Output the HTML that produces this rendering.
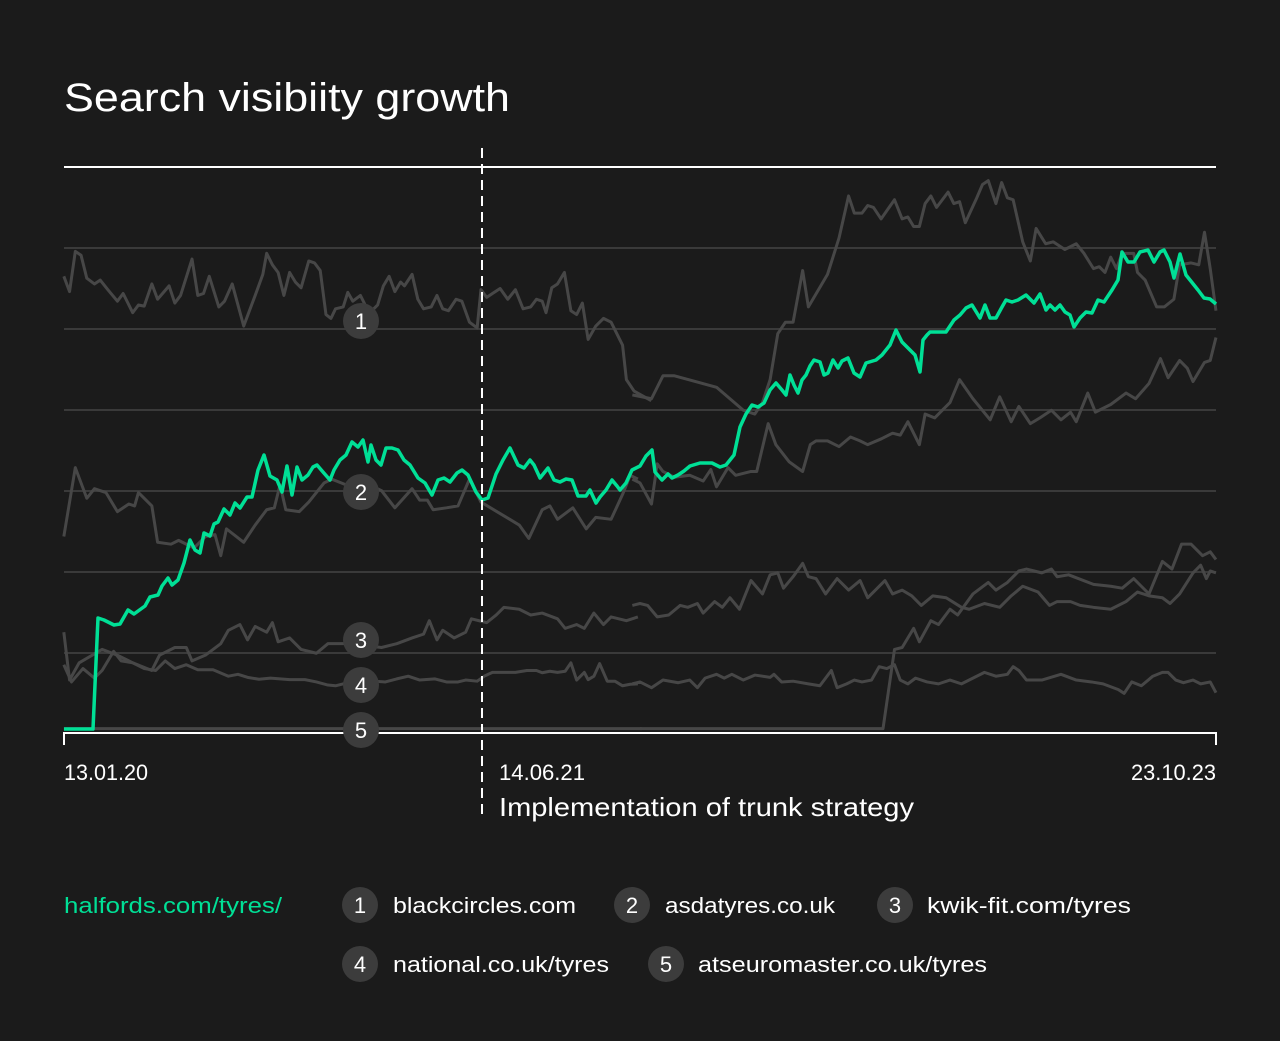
<!DOCTYPE html>
<html><head><meta charset="utf-8"><style>
html,body{margin:0;padding:0;background:#1b1b1b;}
svg{display:block;font-family:"Liberation Sans",sans-serif;}
.g{fill:none;stroke:#474747;stroke-width:3;stroke-linejoin:round;vector-effect:non-scaling-stroke}
</style></head><body>
<svg width="1280" height="1041" viewBox="0 0 1280 1041">
<rect width="1280" height="1041" fill="#1b1b1b"/>
<text x="64" y="111" fill="#fff" font-size="40" textLength="446" lengthAdjust="spacingAndGlyphs">Search visibiity growth</text>
<g stroke="#3a3a3a" stroke-width="2">
<line x1="64" y1="248" x2="1216" y2="248"/><line x1="64" y1="329" x2="1216" y2="329"/>
<line x1="64" y1="410" x2="1216" y2="410"/><line x1="64" y1="491" x2="1216" y2="491"/>
<line x1="64" y1="572" x2="1216" y2="572"/><line x1="64" y1="653" x2="1216" y2="653"/>
</g>
<line x1="64" y1="167" x2="1216" y2="167" stroke="#fff" stroke-width="2"/>

<g transform="translate(60,150) scale(0.3827)">
<polyline class="g" points="10,330 25,370 40,265 55,275 70,335 90,350 105,340 125,365 150,395 165,375 190,425 205,405 220,408 240,350 255,390 285,355 300,400 315,380 345,285 360,380 375,375 390,330 415,410 430,395 450,350 480,460 510,380 530,325 540,270 555,300 570,320 585,380 600,320 615,345 630,360 650,290 665,295 680,315 695,430 708,440 720,415 740,410 752,372 765,395 785,380 800,410 815,420 830,405 845,355 860,330 875,370 890,345 900,355 920,325 935,390 950,415 970,410 985,380 1000,415 1015,420 1035,390 1050,395 1070,450 1090,465 1100,365 1115,385 1130,375 1150,362 1170,390 1190,365 1210,415 1230,410 1245,390 1260,395 1270,425 1285,360 1300,350 1318,320 1335,420 1350,430 1365,400 1380,495 1400,460 1420,440 1440,450 1470,510 1480,600 1500,630 1545,655"/>
<polyline class="g" points="10,1010 40,830 70,910 90,885 120,895 150,945 180,925 195,930 205,895 240,930 255,1025 290,1030 310,1020 350,1040 380,1010 405,1005 420,1060 435,990 480,1025 510,980 540,940 560,935 575,875 590,940 625,945 650,920 690,870 710,860 760,880 790,865 840,890 875,935 920,885 940,915 960,915 975,940 1010,935 1040,930 1070,860 1100,920 1150,950 1200,980 1225,1015 1260,940 1280,930 1300,965 1340,935 1375,990 1400,960 1440,965 1470,900 1490,850 1510,860"/>
<polyline class="g" points="10,1260 25,1385 50,1340 110,1305 150,1320 190,1340 240,1360 260,1320 300,1300 330,1300 345,1335 380,1320 420,1290 440,1255 470,1240 490,1280 510,1245 540,1260 555,1235 570,1285 600,1275 630,1305 670,1315 700,1290 760,1290 840,1300 880,1290 920,1275 950,1265 965,1230 985,1280 1000,1255 1030,1275 1060,1260 1075,1225 1115,1235 1140,1215 1160,1195 1200,1200 1230,1215 1260,1210 1300,1225 1320,1250 1350,1240 1370,1250 1395,1210 1420,1240 1440,1220 1480,1230 1510,1220"/>
<polyline class="g" points="10,1345 30,1390 60,1355 90,1380 110,1360 140,1310 160,1335 190,1340 220,1355 250,1360 275,1335 300,1355 330,1345 360,1358 400,1358 440,1375 465,1370 490,1378 520,1383 550,1380 600,1384 640,1384 670,1390 700,1398 720,1400 760,1390 790,1390 820,1388 850,1390 880,1382 910,1375 940,1385 980,1382 1010,1390 1040,1390 1060,1385 1090,1388 1110,1374 1130,1365 1160,1365 1190,1365 1220,1360 1245,1360 1260,1366 1280,1362 1300,1365 1320,1362 1335,1340 1350,1385 1370,1365 1380,1384 1395,1375 1410,1342 1430,1388 1450,1388 1470,1400 1490,1396 1510,1395"/>
<polyline class="g" points="10,1512 1520,1512"/>
</g>
<g transform="translate(640,150) scale(0.3827)">
<polyline class="g" points="-20,640 30,650 60,590 90,590 200,620 270,680 300,690 320,660 340,600 360,480 380,450 400,450 425,315 440,410 490,325 520,230 545,120 560,165 580,165 595,145 610,150 630,180 665,130 685,180 700,175 715,200 730,200 745,140 760,120 775,150 805,110 820,140 835,135 850,190 880,125 895,90 910,80 930,140 945,85 960,125 975,130 1000,240 1020,290 1035,205 1060,245 1080,240 1110,260 1140,245 1160,270 1185,310 1200,305 1215,320 1230,280 1245,310 1260,270 1290,270 1300,320 1320,340 1350,410 1370,410 1395,390 1410,300 1440,295 1460,300 1475,215 1490,310 1505,420"/>
<polyline class="g" points="-20,860 0,870 30,925 45,820 60,840 90,855 130,850 165,865 185,835 200,880 230,830 250,850 290,840 305,840 335,715 355,770 390,815 425,840 445,770 460,760 490,760 520,775 550,750 575,760 595,770 630,755 660,740 680,745 700,710 730,770 745,690 770,700 790,680 810,660 835,600 870,650 915,705 940,645 970,710 990,670 1020,715 1045,700 1075,680 1100,705 1125,685 1140,710 1170,635 1190,685 1230,665 1270,635 1295,650 1330,610 1360,545 1380,595 1410,550 1430,570 1445,605 1475,555 1490,550 1505,490"/>
<polyline class="g" points="-20,1190 0,1185 20,1190 45,1220 75,1215 105,1190 125,1195 150,1185 165,1210 195,1180 215,1195 235,1170 260,1200 290,1125 320,1160 340,1110 360,1105 375,1145 400,1115 425,1080 440,1115 460,1120 485,1160 515,1120 545,1150 575,1125 595,1170 640,1125 660,1160 685,1150 710,1165 735,1190 765,1165 800,1170 840,1195 860,1200 900,1185 940,1195 970,1165 1000,1140 1040,1155 1070,1190 1090,1180 1125,1180 1150,1190 1185,1195 1230,1200 1270,1180 1300,1155 1330,1165 1365,1170 1385,1185 1410,1160 1445,1105 1465,1085 1480,1120 1490,1100 1505,1105"/>
<polyline class="g" points="-20,1395 0,1390 30,1405 60,1385 100,1392 130,1385 150,1405 170,1380 200,1370 220,1380 240,1370 270,1385 300,1372 340,1378 350,1370 370,1390 400,1388 440,1395 470,1400 500,1360 515,1405 540,1395 560,1385 580,1390 605,1385 625,1350 645,1355 665,1345 680,1385 700,1395 720,1380 750,1390 780,1395 810,1385 840,1395 870,1380 900,1365 930,1375 960,1370 975,1350 990,1360 1010,1385 1050,1385 1100,1370 1140,1385 1180,1390 1210,1395 1250,1410 1265,1420 1285,1390 1310,1400 1340,1375 1365,1365 1380,1365 1400,1385 1420,1392 1445,1385 1465,1395 1490,1390 1505,1418"/>
<polyline class="g" points="0,1512 635,1512 665,1305 685,1300 715,1250 730,1285 760,1230 780,1240 810,1200 830,1215 870,1160 910,1130 930,1150 960,1130 990,1100 1010,1095 1050,1105 1075,1095 1090,1115 1120,1110 1185,1135 1230,1140 1260,1145 1290,1120 1330,1160 1365,1075 1390,1095 1415,1030 1440,1030 1470,1060 1490,1050 1505,1070"/>
</g>

<polyline fill="none" stroke="#00e096" stroke-width="3.5" stroke-linejoin="round" points="64,729 93,729 98,618 104,620 114,625 120,624 128,610 134,614 145,606 150,597 158,595 162,586 168,578 172,585 178,580 184,563 190,540 195,550 200,553 204,533 210,536 214,524 218,522 224,509 230,515 235,503 240,508 247,497 252,497 258,470 264,455 270,476 277,480 282,492 287,466 292,495 297,467 302,480 308,475 313,467 317,465 323,472 330,480 334,470 340,460 346,455 352,442 358,447 363,440 368,462 371,445 376,460 381,465 386,448 392,448 398,450 404,460 410,465 418,478 425,483 432,495 438,480 444,478 450,482 457,473 462,470 468,475 476,492 482,500 488,498 496,474 503,460 510,448 518,465 524,468 530,460 534,465 540,478 548,468 554,480 560,482 566,479 572,480 578,496 586,496 590,490 596,503 600,497 606,490 612,480 617,486 620,490 626,483 632,470 640,466 646,456 652,450 655,472 662,480 668,474 672,478 678,475 684,471 690,466 700,463 712,463 720,467 726,465 734,455 740,427 746,414 752,405 758,407 764,403 770,390 776,383 782,390 786,395 790,375 794,385 798,393 802,380 806,375 810,366 814,360 820,362 824,375 828,373 833,360 838,368 842,361 848,358 854,373 860,377 866,363 876,360 882,355 890,345 896,330 902,342 910,350 915,355 920,372 923,340 927,335 930,332 946,332 954,320 960,315 966,308 972,305 980,318 985,305 990,318 996,318 1002,307 1006,300 1012,302 1018,300 1026,295 1034,303 1040,294 1046,310 1050,305 1055,310 1060,305 1065,312 1070,315 1074,327 1080,318 1086,312 1092,313 1098,300 1104,302 1112,290 1118,280 1122,252 1128,262 1134,262 1140,252 1148,250 1154,262 1160,252 1164,250 1170,262 1174,278 1180,254 1186,275 1190,280 1198,290 1204,298 1210,299 1216,304"/>

<line x1="64" y1="733" x2="1216" y2="733" stroke="#fff" stroke-width="2"/>
<line x1="64" y1="732" x2="64" y2="745" stroke="#fff" stroke-width="2"/>
<line x1="1216" y1="732" x2="1216" y2="745" stroke="#fff" stroke-width="2"/>
<line x1="482" y1="148" x2="482" y2="820" stroke="#fff" stroke-width="2" stroke-dasharray="10,6"/>

<g fill="#3c3c3c">
<circle cx="361" cy="321" r="18"/><circle cx="361" cy="492" r="18"/><circle cx="361" cy="640" r="18"/><circle cx="361" cy="685" r="18"/><circle cx="361" cy="730" r="18"/>
</g>
<g fill="#fff" font-size="22" text-anchor="middle">
<text x="361" y="329">1</text><text x="361" y="500">2</text><text x="361" y="648">3</text><text x="361" y="693">4</text><text x="361" y="738">5</text>
</g>

<g fill="#fff" font-size="22">
<text x="64" y="780" textLength="84" lengthAdjust="spacingAndGlyphs">13.01.20</text>
<text x="499" y="780" textLength="86" lengthAdjust="spacingAndGlyphs">14.06.21</text>
<text x="1131" y="780" textLength="85" lengthAdjust="spacingAndGlyphs">23.10.23</text>
<text x="499" y="816" font-size="26" textLength="415" lengthAdjust="spacingAndGlyphs">Implementation of trunk strategy</text>
</g>

<g fill="#3c3c3c">
<circle cx="360" cy="905" r="18"/><circle cx="632" cy="905" r="18"/><circle cx="895" cy="905" r="18"/>
<circle cx="360" cy="964" r="18"/><circle cx="666" cy="964" r="18"/>
</g>
<g fill="#fff" font-size="22" text-anchor="middle">
<text x="360" y="913">1</text><text x="632" y="913">2</text><text x="895" y="913">3</text>
<text x="360" y="972">4</text><text x="666" y="972">5</text>
</g>
<g fill="#fff" font-size="22">
<text x="64" y="913" fill="#00e096" textLength="218" lengthAdjust="spacingAndGlyphs">halfords.com/tyres/</text>
<text x="393" y="913" textLength="183" lengthAdjust="spacingAndGlyphs">blackcircles.com</text>
<text x="665" y="913" textLength="170" lengthAdjust="spacingAndGlyphs">asdatyres.co.uk</text>
<text x="927" y="913" textLength="204" lengthAdjust="spacingAndGlyphs">kwik-fit.com/tyres</text>
<text x="393" y="972" textLength="216" lengthAdjust="spacingAndGlyphs">national.co.uk/tyres</text>
<text x="698" y="972" textLength="289" lengthAdjust="spacingAndGlyphs">atseuromaster.co.uk/tyres</text>
</g>
</svg>
</body></html>
